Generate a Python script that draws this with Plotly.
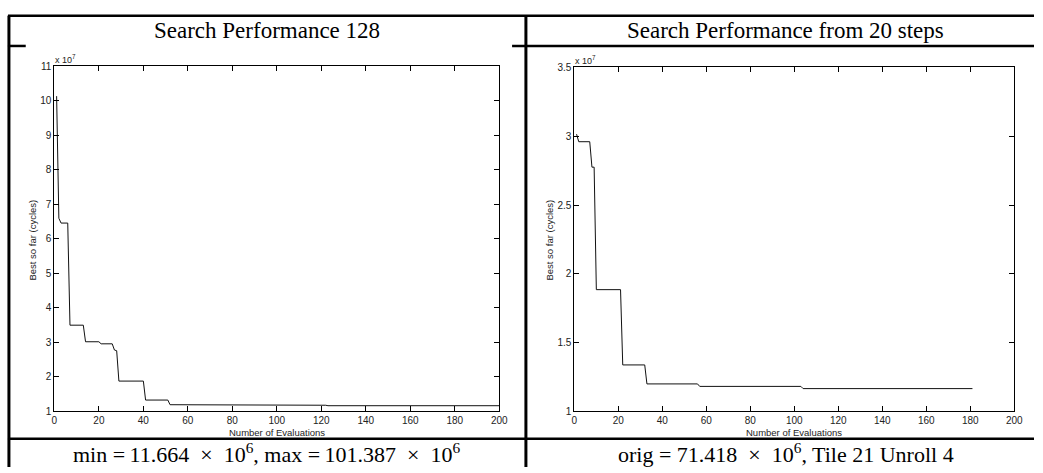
import plotly.graph_objects as go

# ---- data (y in units of 10^7 cycles) ----
x_left = [1, 2, 3, 6, 7, 13, 14, 20, 21, 26, 27, 28, 29, 40, 41, 51, 52, 75, 76, 122, 123, 200]
y_left = [10.1387, 6.6, 6.46, 6.46, 3.5, 3.5, 3.02, 3.02, 2.96, 2.96, 2.78, 2.76,
          1.88, 1.88, 1.33, 1.33, 1.195, 1.195, 1.18, 1.18, 1.1664, 1.1664]

x_right = [1, 2, 7, 8, 9, 10, 21, 22, 32, 33, 56, 57, 103, 104, 181]
y_right = [3.015, 2.96, 2.96, 2.775, 2.775, 1.885, 1.885, 1.338, 1.338, 1.2, 1.2,
           1.182, 1.182, 1.166, 1.166]

x_ticks = [0, 20, 40, 60, 80, 100, 120, 140, 160, 180, 200]
y_ticks_left = [1, 2, 3, 4, 5, 6, 7, 8, 9, 10, 11]
y_ticks_right = [1, 1.5, 2, 2.5, 3, 3.5]

title_left = "Search Performance 128"
title_right = "Search Performance from 20 steps"
caption_left = ("min =\u200911.664\u2002\u00d7\u200210<sup>6</sup>, "
                "max =\u2009101.387\u2002\u00d7\u200210<sup>6</sup>")
caption_right = "orig = 71.418\u2002\u00d7\u200210<sup>6</sup>, Tile 21 Unroll 4"
y_title = "Best so far (cycles)"
x_title = "Number of Evaluations"
exp_label = "x 10<sup>7</sup>"

W, H = 1043, 473


def px(x):
    return x / W


def py(y):
    return 1 - y / H


fig = go.Figure()
fig.add_trace(go.Scatter(x=x_left, y=y_left, mode="lines",
                         line=dict(color="#111111", width=1), xaxis="x", yaxis="y",
                         showlegend=False, hoverinfo="skip"))
fig.add_trace(go.Scatter(x=x_right, y=y_right, mode="lines",
                         line=dict(color="#111111", width=1), xaxis="x2", yaxis="y2",
                         showlegend=False, hoverinfo="skip"))

tick_font = dict(family="Liberation Sans, Arial, sans-serif", size=10, color="#222222")
common = dict(showline=True, linecolor="#000000", linewidth=1, mirror="ticks",
              ticks="inside", ticklen=5, tickcolor="#000000", tickwidth=1,
              showgrid=False, zeroline=False, tickfont=tick_font)

fig.update_layout(
    width=W, height=H, autosize=False,
    margin=dict(l=0, r=0, t=0, b=0),
    paper_bgcolor="white", plot_bgcolor="white",
    xaxis=dict(domain=[px(52), px(502)], range=[0, 200], tickvals=x_ticks,
               anchor="y", **common),
    yaxis=dict(domain=[py(416), py(62)], range=[1, 11], tickvals=y_ticks_left,
               anchor="x", **common),
    xaxis2=dict(domain=[px(578), px(1023)], range=[0, 200], tickvals=x_ticks,
                anchor="y2", **common),
    yaxis2=dict(domain=[py(416), py(63)], range=[1, 3.5], tickvals=y_ticks_right,
                anchor="x2", **common),
)

# table borders
lines = [
    # (x0, y0, x1, y1, width)
    (5, 10, 1043, 10, 2.5),      # top
    (6, 10, 6, 473, 3),          # left
    (529, 10, 529, 473, 3),      # middle
    (5, 41, 23, 41, 2.5),        # header separator left cell (partly hidden)
    (515, 41, 1043, 41, 2.5),    # header separator
    (5, 444, 1043, 444, 2.5),    # caption separator
]
for x0, y0, x1, y1, w in lines:
    fig.add_shape(type="line", xref="paper", yref="paper",
                  x0=px(x0), y0=py(y0), x1=px(x1), y1=py(y1),
                  line=dict(color="#000000", width=w), layer="above")

serif = "Liberation Serif, Times New Roman, serif"
sans = "Liberation Sans, Arial, sans-serif"
ann = []
ann.append(dict(text=title_left, x=px(267), y=py(25), font=dict(family=serif, size=23, color="#000")))
ann.append(dict(text=title_right, x=px(792), y=py(25), font=dict(family=serif, size=23, color="#000")))
ann.append(dict(text=caption_left, x=px(267), y=py(459), font=dict(family=serif, size=22, color="#000")))
ann.append(dict(text=caption_right, x=px(792), y=py(459), font=dict(family=serif, size=22, color="#000")))
ann.append(dict(text=exp_label, x=px(51), y=py(54), xanchor="left", font=dict(family=sans, size=9, color="#222")))
ann.append(dict(text=exp_label, x=px(577), y=py(55), xanchor="left", font=dict(family=sans, size=9, color="#222")))
ann.append(dict(text=y_title, x=px(30), y=py(240), textangle=-90, font=dict(family=sans, size=9.5, color="#222")))
ann.append(dict(text=y_title, x=px(553), y=py(240), textangle=-90, font=dict(family=sans, size=9.5, color="#222")))
ann.append(dict(text=x_title, x=px(277), y=py(438), font=dict(family=sans, size=9.5, color="#222")))
ann.append(dict(text=x_title, x=px(800), y=py(438), font=dict(family=sans, size=9.5, color="#222")))
for a in ann:
    a.setdefault("xanchor", "center")
    a.update(xref="paper", yref="paper", yanchor="middle", showarrow=False)
fig.update_layout(annotations=ann)

fig.write_html("out.html",
               config={"displayModeBar": False, "staticPlot": True},
               post_script="document.body.style.margin='0';document.body.style.padding='0';"
                           "document.body.style.overflow='hidden';")
